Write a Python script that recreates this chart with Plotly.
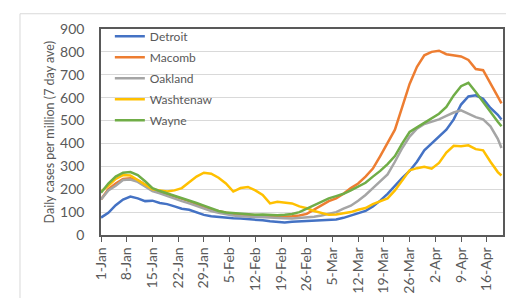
import plotly.graph_objects as go
import pandas as pd

# day offsets from 1-Jan-2021
days = list(range(0, 109, 2)) + [109]
dates = [pd.Timestamp("2021-01-01") + pd.Timedelta(days=d) for d in days]

detroit = [76, 97, 130, 155, 168, 160, 148, 150, 140, 135, 125, 115, 110, 100, 88, 82, 78, 76, 73, 72,
           70, 68, 64, 60, 57, 55, 58, 60, 62, 63, 64, 66, 68, 75, 85, 92, 105, 125, 150, 180,
           215, 250, 280, 320, 370, 400, 430, 460, 505, 570, 605, 610, 595, 555, 525, 505]
macomb = [155, 200, 225, 245, 248, 240, 220, 200, 190, 180, 168, 158, 148, 135, 120, 110, 103, 96, 92, 90,
          88, 85, 84, 82, 80, 80, 82, 85, 92, 110, 130, 148, 160, 180, 205, 225, 255, 290, 345, 400,
          460, 560, 660, 735, 785, 800, 805, 790, 785, 780, 765, 725, 720, 665, 605, 575]
oakland = [155, 195, 215, 240, 242, 232, 212, 192, 182, 170, 158, 148, 138, 126, 115, 105, 97, 90, 85, 82,
           80, 78, 76, 75, 74, 73, 72, 74, 76, 80, 85, 92, 100, 115, 128, 150, 175, 205, 235, 265,
           320, 380, 430, 465, 485, 495, 505, 520, 535, 545, 530, 515, 505, 475, 420, 380]
washtenaw = [190, 215, 245, 262, 260, 240, 218, 200, 195, 190, 195, 205, 230, 255, 272, 268, 250, 225, 190, 205,
             210, 195, 175, 138, 145, 140, 138, 125, 117, 105, 95, 88, 90, 95, 100, 110, 118, 135, 148, 160,
             195, 240, 283, 292, 298, 290, 315, 360, 390, 388, 392, 375, 370, 320, 275, 260]
wayne = [185, 225, 255, 272, 275, 262, 235, 205, 192, 182, 170, 160, 150, 140, 128, 115, 105, 98, 95, 92,
         90, 88, 90, 88, 86, 88, 92, 100, 115, 130, 145, 160, 170, 180, 195, 212, 228, 255, 280, 310,
         345, 400, 450, 470, 490, 510, 530, 560, 610, 650, 665, 625, 580, 535, 495, 475]

series_names = ["Detroit", "Macomb", "Oakland", "Washtenaw", "Wayne"]
series_values = [detroit, macomb, oakland, washtenaw, wayne]
colors = ["#4472C4", "#ED7D31", "#A5A5A5", "#FFC000", "#70AD47"]

tick_dates = [pd.Timestamp("2021-01-01") + pd.Timedelta(days=7 * i) for i in range(16)]
tick_text = [f"{d.day}-{d.strftime('%b')}" for d in tick_dates]

FONT = "Lato"
GRAY = "#595959"

fig = go.Figure()
for name, vals, col in zip(series_names, series_values, colors):
    fig.add_trace(go.Scatter(x=dates, y=vals, mode="lines", name=name, legendgroup=name,
                             line=dict(color=col, width=2.5)))

fig.update_layout(
    width=514, height=298,
    margin=dict(l=93, r=19, t=18, b=63),
    paper_bgcolor="white", plot_bgcolor="white",
    font=dict(family=FONT, color=GRAY),
    showlegend=True,
    legend=dict(x=0.022, y=1.035, xanchor="left", yanchor="top", bgcolor="rgba(0,0,0,0)",
                font=dict(size=12, family=FONT, color=GRAY), tracegroupgap=2),
    xaxis=dict(type="date", range=["2021-01-01", "2021-04-20 10:00"],
               tickvals=tick_dates, ticktext=tick_text, tickangle=-90,
               tickfont=dict(size=14, family=FONT, color=GRAY),
               ticks="outside", ticklen=5, tickcolor=GRAY,
               showline=True, linecolor=GRAY, linewidth=1.5, mirror=True,
               showgrid=False, zeroline=False),
    yaxis=dict(range=[0, 900], dtick=100, tickfont=dict(size=14, family=FONT, color=GRAY),
               showline=True, linecolor=GRAY, linewidth=1.5, mirror=True,
               showgrid=True, gridcolor="#D9D9D9", gridwidth=1, zeroline=False,
               ticks="", ticklabelstandoff=12),
    annotations=[dict(text="Daily cases per million (7 day ave)", textangle=-90,
                      xref="paper", yref="paper", x=-0.152, y=0.5, showarrow=False,
                      font=dict(size=12.5, family=FONT, color=GRAY))],
    shapes=[dict(type="rect", xref="paper", yref="paper", x0=-0.2015, x1=1.03, y0=-0.35, y1=1.074,
                 line=dict(color="#D9D9D9", width=1), layer="below")],
)

fig.write_html("out.html")
